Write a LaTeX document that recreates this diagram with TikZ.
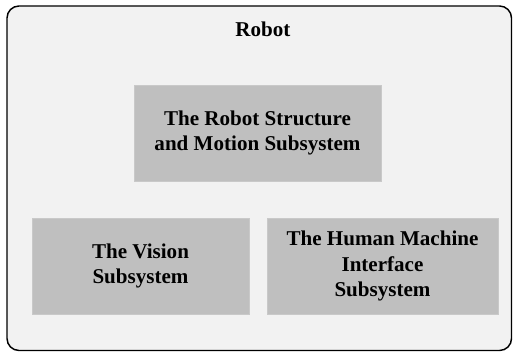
\documentclass[tikz,border=0pt]{standalone}
\usepackage{fontspec}
\setmainfont{Liberation Serif}
\usepackage{tikz}

\definecolor{outerbg}{HTML}{F2F2F2}
\definecolor{subbox}{HTML}{BFBFBF}

\tikzset{
	subsys/.style={draw=subbox!85!white, fill=subbox, line width=0.6pt, inner sep=0pt, align=center, font=\fontsize{15.8}{19.3}\selectfont\bfseries},
}

\begin{document}
\begin{tikzpicture}[x=0.75pt,y=0.75pt,yscale=-1,xscale=1]
	\useasboundingbox (0,0) rectangle (513,352); %set diagram size
	
	%Shape: Rounded Rectangle [id:robot]
	\draw [fill=outerbg, line width=1.1pt, rounded corners=9pt] (7,6) rectangle (511.5,350.5) ;
	
	% Text Node
	\node (robot) at (263,29) [font=\fontsize{15.8}{19}\selectfont\bfseries] {Robot};
	
	%Shape: Rectangle [id:structure]
	\node (structure) [subsys, minimum width=185.25pt, minimum height=72pt] at (257.5,133) {The Robot Structure\\and Motion Subsystem};
	%Shape: Rectangle [id:vision]
	\node (vision) [subsys, minimum width=162.75pt, minimum height=72pt] at (140.5,266) {The Vision\\Subsystem};
	%Shape: Rectangle [id:hmi]
	\node (hmi) [subsys, minimum width=173.25pt, minimum height=72pt] at (382.5,266) {The Human Machine\\Interface\\Subsystem};
	
\end{tikzpicture}
\end{document}
